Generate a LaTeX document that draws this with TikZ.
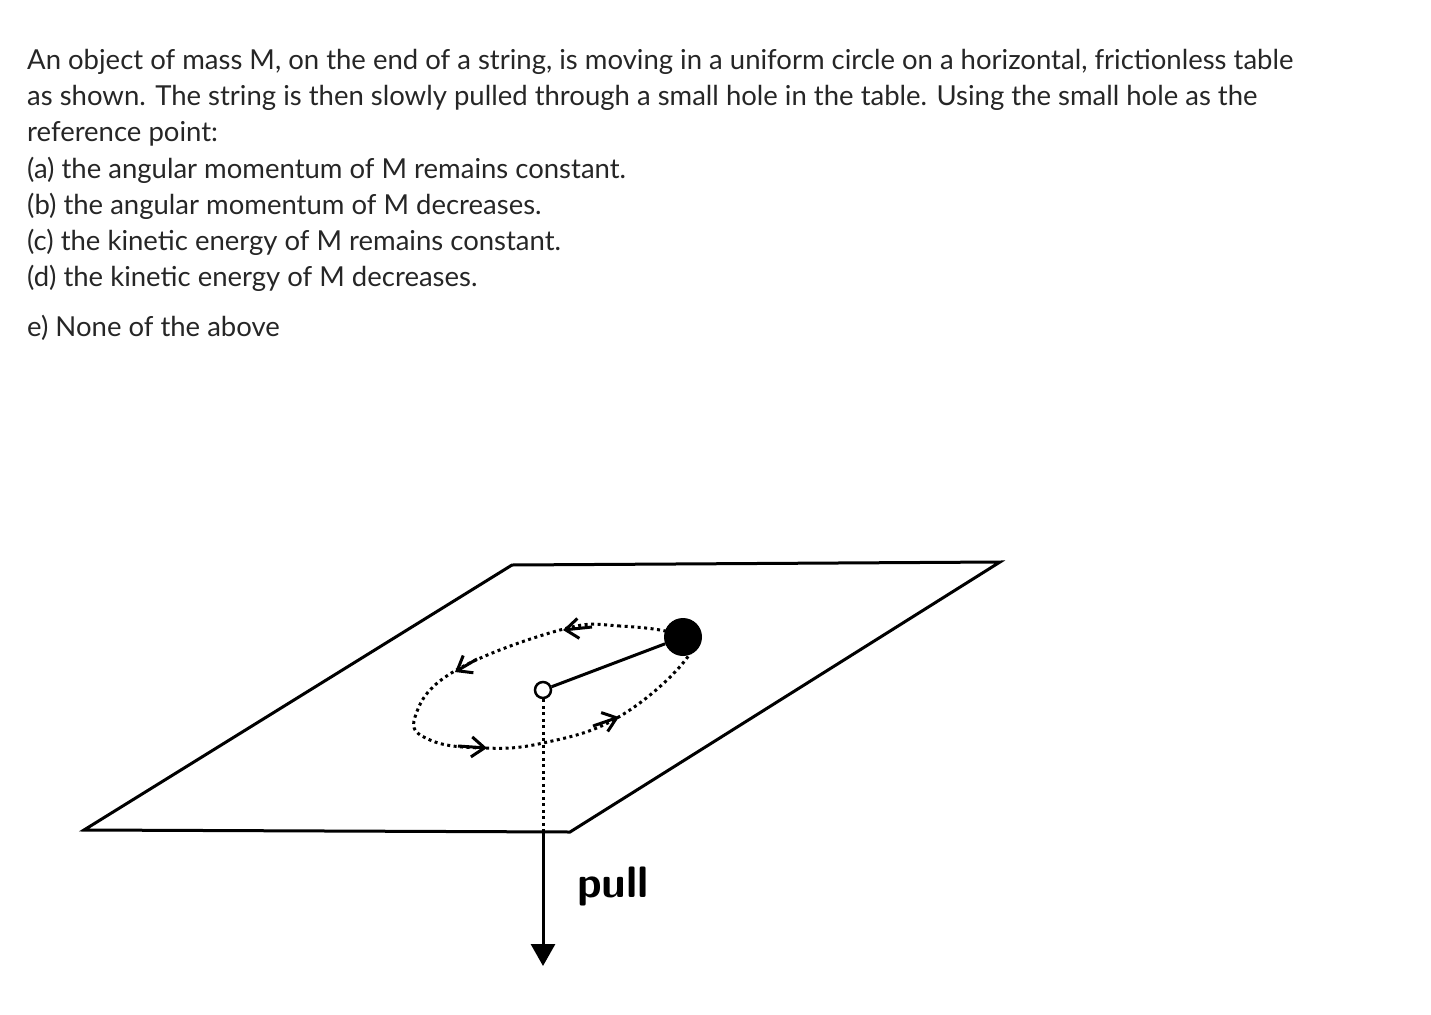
\documentclass[tikz,border=0pt]{standalone}
\usepackage{fontspec}
\setmainfont{Lato}
\usetikzlibrary{arrows.meta}
\begin{document}
\begin{tikzpicture}[x=1pt,y=-1pt,
  txt/.style={anchor=base west,inner sep=0pt,font=\fontsize{27.5}{32}\selectfont,text=black!85},
  edge/.style={line width=3pt,line join=miter},
  orbit/.style={line width=3pt,dash pattern=on 3pt off 3.5pt},
  barb/.style={line width=3pt,-{Straight Barb[length=13pt,width=20pt,line width=3pt]}}]
\useasboundingbox (0,0) rectangle (1431,1014);
\node[txt] (l1) at (27,70) {An object of mass M, on the end of a string, is moving in a uniform circle on a horizontal, frictionless table};
\node[txt] (l2) at (27,106) {as shown. The string is then slowly pulled through a small hole in the table. Using the small hole as the};
\node[txt] (l3) at (27,142) {reference point:};
\node[txt] (l4) at (27,178) {(a) the angular momentum of M remains constant.};
\node[txt] (l5) at (27,214) {(b) the angular momentum of M decreases.};
\node[txt] (l6) at (27,250) {(c) the kinetic energy of M remains constant.};
\node[txt] (l7) at (27,286) {(d) the kinetic energy of M decreases.};
\node[txt] (l8) at (27,336) {e) None of the above};
% table
\coordinate (tl) at (512,565); \coordinate (tr) at (1000,562);
\coordinate (br) at (570,832); \coordinate (bl) at (84,830);
\draw[edge] (tl) -- (tr) -- (br) -- (bl) -- cycle;
% orbit
\draw[orbit] plot[smooth cycle,tension=0.7] coordinates {(683,637) (620,626) (560,630) (453,672) (415,717) (430,740) (483,748) (543,743) (617,718) (683,663)};
\coordinate (a1s) at (592,627); \coordinate (a1e) at (563,630);
\coordinate (a2s) at (477,659); \coordinate (a2e) at (455,672);
\coordinate (a3s) at (458,746); \coordinate (a3e) at (487,748);
\coordinate (a4s) at (593,726); \coordinate (a4e) at (619,717);
\draw[barb] (a1s) -- (a1e);
\draw[barb] (a2s) -- (a2e);
\draw[barb] (a3s) -- (a3e);
\draw[barb] (a4s) -- (a4e);
% hole, string, mass
\node[draw,circle,line width=2.5pt,minimum size=16pt,inner sep=0pt] (hole) at (543,690) {};
\node[fill=black,circle,minimum size=38pt,inner sep=0pt] (mass) at (683,637) {};
\draw[line width=3pt] (hole) -- (mass);
\coordinate (edgept) at (543,831);
\coordinate (tip) at (543,966);
\draw[orbit] (hole) -- (edgept);
\draw[line width=3pt,-{Triangle[length=22pt,width=24pt]}] (edgept) -- (tip);
\node[anchor=base west,inner sep=0pt,font=\fontsize{44}{48}\selectfont\bfseries\sffamily] (pull) at (577,897) {pull};
\end{tikzpicture}
\end{document}
